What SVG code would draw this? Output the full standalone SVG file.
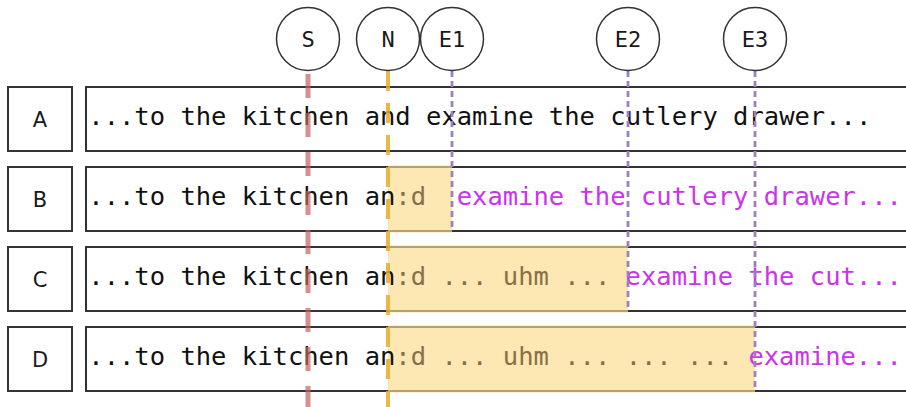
<svg xmlns="http://www.w3.org/2000/svg" width="906" height="407" viewBox="0 0 906 407">
  <style>
    .lbl { fill: #ffffff; stroke: #333333; stroke-width: 2; }
    .lbltxt { font-family: "DejaVu Sans", "Verdana", sans-serif; font-size: 21px; fill: #1a1a1a; text-anchor: middle; }
    .box { fill: #ffffff; stroke: #333333; stroke-width: 2; }
    .hold { fill: rgb(252, 218, 140); fill-opacity: 0.66; stroke: none; }
    .row { font-family: "DejaVu Sans Mono", "Liberation Mono", monospace; font-size: 25.5px; fill: #111111; white-space: pre; }
    .fill { fill: #857048; }
    .new { fill: #cc33ee; }
    .mark { fill: #ffffff; stroke: #333333; stroke-width: 1.5; }
    .marktxt { font-family: "DejaVu Sans Mono", "Liberation Mono", monospace; font-size: 22px; fill: #1a1a1a; text-anchor: middle; }
    .lineS { stroke: #c85f5f; stroke-opacity: 0.7; stroke-width: 5; stroke-dasharray: 24 15; fill: none; }
    .lineN { stroke: #e6ab28; stroke-opacity: 0.85; stroke-width: 4; stroke-dasharray: 20 12; fill: none; }
    .lineE { stroke: #9f80bf; stroke-width: 2.8; stroke-dasharray: 6 4; fill: none; }
  </style>

  <!-- row labels -->
  <g id="label-A"><rect class="lbl" x="8" y="87" width="64" height="64"/><text class="lbltxt" x="40" y="126.5">A</text></g>
  <g id="label-B"><rect class="lbl" x="8" y="167" width="64" height="64"/><text class="lbltxt" x="40" y="206.5">B</text></g>
  <g id="label-C"><rect class="lbl" x="8" y="247" width="64" height="64"/><text class="lbltxt" x="40" y="286.5">C</text></g>
  <g id="label-D"><rect class="lbl" x="8" y="327" width="64" height="64"/><text class="lbltxt" x="40" y="366.5">D</text></g>

  <!-- utterance rows -->
  <g id="row-A">
    <rect class="box" x="86" y="87" width="840" height="64"/>
    <text class="row" x="88.3" y="125">...to the kitchen and examine the cutlery drawer...</text>
  </g>
  <g id="row-B">
    <rect class="box" x="86" y="167" width="840" height="64"/>
    <rect class="hold" x="388" y="165.5" width="64" height="67"/>
    <text class="row" x="88.3" y="205">...to the kitchen an<tspan class="fill">:d</tspan><tspan class="new" x="456.7">examine the cutlery drawer...</tspan></text>
  </g>
  <g id="row-C">
    <rect class="box" x="86" y="247" width="840" height="64"/>
    <rect class="hold" x="388" y="245.5" width="240" height="67"/>
    <text class="row" x="88.3" y="285">...to the kitchen an<tspan class="fill">:d ... uhm ...</tspan><tspan class="new" x="625.6">examine the cut...</tspan></text>
  </g>
  <g id="row-D">
    <rect class="box" x="86" y="327" width="840" height="64"/>
    <rect class="hold" x="388" y="325.5" width="367" height="67"/>
    <text class="row" x="88.3" y="365">...to the kitchen an<tspan class="fill">:d ... uhm ... ... ...</tspan><tspan class="new" x="748.4">examine...</tspan></text>
  </g>

  <!-- time markers -->
  <g id="connectors">
    <line class="lineS" x1="308" y1="74" x2="308" y2="407"/>
    <line class="lineN" x1="388" y1="71" x2="388" y2="407"/>
    <line class="lineE" x1="452" y1="71" x2="452" y2="231"/>
    <line class="lineE" x1="628" y1="71" x2="628" y2="311"/>
    <line class="lineE" x1="755" y1="71" x2="755" y2="391"/>
  </g>

  <g id="mark-S"><circle class="mark" cx="308" cy="39" r="31.5"/><text class="marktxt" x="308" y="47">S</text></g>
  <g id="mark-N"><circle class="mark" cx="388" cy="39" r="31.5"/><text class="marktxt" x="388" y="47">N</text></g>
  <g id="mark-E1"><circle class="mark" cx="452" cy="39" r="31.5"/><text class="marktxt" x="452" y="47">E1</text></g>
  <g id="mark-E2"><circle class="mark" cx="628" cy="39" r="31.5"/><text class="marktxt" x="628" y="47">E2</text></g>
  <g id="mark-E3"><circle class="mark" cx="755" cy="39" r="31.5"/><text class="marktxt" x="755" y="47">E3</text></g>
</svg>
